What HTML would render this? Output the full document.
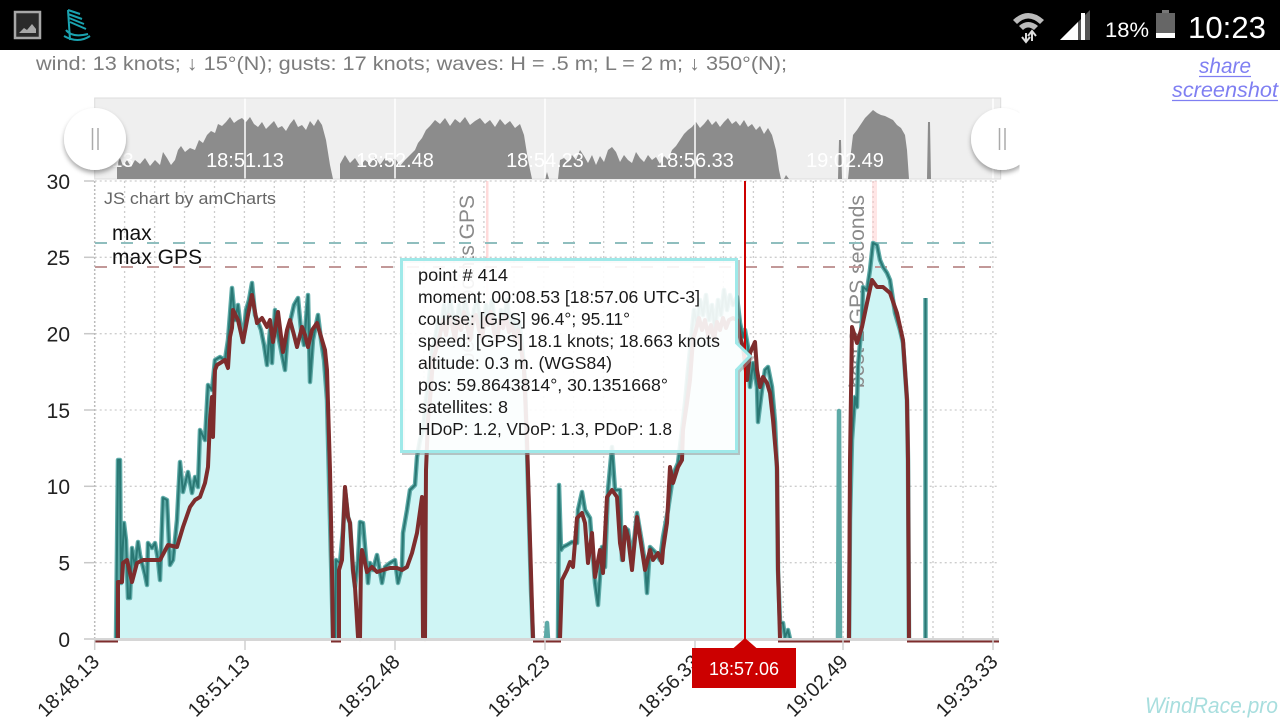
<!DOCTYPE html>
<html><head><meta charset="utf-8"><style>
html,body{margin:0;padding:0;background:#fff;width:1280px;height:720px;overflow:hidden}
svg{display:block}
text{font-family:"Liberation Sans",sans-serif}
</style></head><body>
<svg width="1280" height="720" viewBox="0 0 1280 720" xmlns="http://www.w3.org/2000/svg">
<defs>
<clipPath id="cr"><rect x="0" y="90" width="1019.5" height="100"/></clipPath>
<filter id="sh" x="-30%" y="-30%" width="160%" height="170%"><feDropShadow dx="0" dy="3" stdDeviation="2.5" flood-color="#000" flood-opacity="0.35"/></filter>
</defs>
<rect width="1280" height="720" fill="#fff"/>
<!-- status bar -->
<rect x="0" y="0" width="1280" height="50" fill="#000"/>
<rect x="15" y="12" width="25" height="26" fill="#2a2a2a" stroke="#a8a8a8" stroke-width="2.5"/>
<path d="M19,33 L24,28 L27,30 L32,24 L36,29 L36,33 Z" fill="#a8a8a8"/>
<g stroke="#1aa3b0" stroke-width="2" fill="none">
<path d="M68,10 L80,14 M68,14 L82,19 M69,18 L84,24 M70,22 L86,29 M68,10 L70,40"/>
<path d="M64,36 Q78,44 90,36 M66,30 Q72,38 88,34"/>
</g>
<path d="M1013,20 Q1028,6 1044,20 L1040,24 Q1028,13 1017,24 Z M1019,26 Q1028,18 1038,26 L1034,30 Q1028,25 1023,30 Z" fill="#bbb"/>
<path d="M1026,33 L1026,41 M1022,37 L1026,42 L1030,37 M1032,41 L1032,32 M1028,36 L1032,31 L1036,36" stroke="#ddd" stroke-width="2" fill="none"/>
<path d="M1060,40 L1090,40 L1090,10 Z" fill="#555"/>
<path d="M1060,40 L1078,40 L1078,22 Z" fill="#fff"/>
<rect x="1081" y="13" width="4" height="27" fill="#fff"/>
<text x="1105" y="37" font-size="21" fill="#fff" textLength="44" lengthAdjust="spacingAndGlyphs">18%</text>
<rect x="1162" y="10" width="7" height="4" fill="#777"/>
<rect x="1156" y="13" width="19" height="25" fill="#666"/>
<rect x="1156" y="33" width="19" height="5" fill="#fff"/>
<text x="1188" y="38" font-size="31" fill="#fff" textLength="78" lengthAdjust="spacingAndGlyphs">10:23</text>
<!-- header -->
<text x="36" y="70" font-size="19.5" fill="#7c7c7c" textLength="751" lengthAdjust="spacingAndGlyphs">wind: 13 knots; ↓ 15°(N); gusts: 17 knots; waves: H = .5 m; L = 2 m;  ↓ 350°(N);</text>
<text x="1199" y="73" font-size="21" font-style="italic" fill="#7f7ff2" textLength="52" lengthAdjust="spacingAndGlyphs">share</text>
<line x1="1199" y1="76.5" x2="1251" y2="76.5" stroke="#7f7ff2" stroke-width="1.3"/>
<text x="1172" y="97" font-size="21" font-style="italic" fill="#7f7ff2" textLength="106" lengthAdjust="spacingAndGlyphs">screenshot</text>
<line x1="1172" y1="100.5" x2="1278" y2="100.5" stroke="#7f7ff2" stroke-width="1.3"/>

<!-- scrollbar -->
<rect x="94.7" y="98" width="906" height="81" fill="#efefef" stroke="#dcdcdc" stroke-width="1"/>
<path fill="#8c8c8c" d="M94.7,179 L117,179 L117,165 L120,158 L123,166 L127,160 L131,167 L135,160 L140,164 L145,158 L150,166 L155,160 L160,165 L163,152 L167,158 L171,165 L175,160 L178,150 L181,146 L185,152 L190,148 L195,150 L199,140 L203,143 L207,135 L211,131 L215,133 L218,124 L222,126 L226,122 L230,117 L234,123 L238,120 L242,118 L246,122 L250,117 L254,124 L258,127 L262,122 L266,129 L270,125 L274,121 L278,128 L282,126 L286,131 L290,124 L294,119 L298,127 L302,125 L306,130 L310,121 L314,126 L318,119 L322,125 L326,140 L330,165 L333,179 L340,179 L340,164 L345,155 L350,163 L355,158 L360,166 L365,160 L370,164 L375,157 L380,165 L385,158 L390,163 L395,158 L400,166 L405,160 L410,155 L415,150 L418,143 L422,138 L426,130 L430,126 L435,120 L440,124 L445,118 L450,126 L455,119 L460,123 L465,117 L470,125 L475,121 L480,118 L485,124 L490,120 L495,127 L500,119 L505,125 L510,121 L515,128 L520,124 L524,135 L528,160 L532,179 L545,179 L547,172 L549,179 L558,179 L560,160 L564,158 L568,162 L572,155 L576,160 L580,150 L584,156 L588,163 L592,155 L596,165 L600,156 L604,162 L608,150 L612,147 L616,152 L620,162 L624,155 L628,160 L632,163 L636,152 L640,158 L644,162 L648,155 L652,160 L656,157 L660,164 L664,156 L668,160 L672,150 L676,146 L680,140 L684,134 L688,130 L692,127 L696,122 L700,128 L704,124 L708,119 L712,125 L716,121 L720,127 L724,122 L728,118 L732,124 L736,121 L740,126 L744,120 L748,127 L752,124 L756,130 L760,126 L764,134 L768,128 L772,135 L776,150 L779,170 L781,179 L784,179 L786,175 L789,179 L838,179 L839,140 L841,140 L842,179 L848,179 L850,160 L853,135 L857,130 L861,124 L865,118 L869,114 L873,110 L877,113 L881,115 L885,116 L889,118 L893,120 L897,125 L901,128 L905,135 L907,150 L909,179 L927,179 L928,122 L930,122 L931,179 L1000,179 Z"/>
<g stroke="#fff" stroke-width="1.5">
<line x1="245" y1="98.5" x2="245" y2="178.5"/><line x1="395" y1="98.5" x2="395" y2="178.5"/><line x1="545" y1="98.5" x2="545" y2="178.5"/><line x1="695" y1="98.5" x2="695" y2="178.5"/><line x1="845" y1="98.5" x2="845" y2="178.5"/><line x1="993" y1="98.5" x2="993" y2="178.5"/>
</g>
<g font-size="20" fill="#fff" text-anchor="middle">
<text x="94.7" y="167">18:48.13</text>
<text x="245" y="167">18:51.13</text>
<text x="395" y="167">18:52.48</text>
<text x="545" y="167">18:54.23</text>
<text x="695" y="167">18:56.33</text>
<text x="845" y="167">19:02.49</text>
</g>
<circle cx="95" cy="139" r="31" fill="#fff" filter="url(#sh)"/>
<line x1="92.5" y1="128" x2="92.5" y2="150" stroke="#aaa" stroke-width="1.5"/>
<line x1="98" y1="128" x2="98" y2="150" stroke="#aaa" stroke-width="1.5"/>
<g clip-path="url(#cr)">
<circle cx="1002" cy="139" r="31" fill="#fff" filter="url(#sh)"/>
<line x1="999.5" y1="128" x2="999.5" y2="150" stroke="#aaa" stroke-width="1.5"/>
<line x1="1005" y1="128" x2="1005" y2="150" stroke="#aaa" stroke-width="1.5"/>
</g>

<!-- grid -->
<g stroke="#cdcdcd" stroke-width="1.3" stroke-dasharray="2,3">
<line x1="94.7" y1="181" x2="999" y2="181"/>
<line x1="94.7" y1="257.3" x2="999" y2="257.3"/>
<line x1="94.7" y1="333.7" x2="999" y2="333.7"/>
<line x1="94.7" y1="410" x2="999" y2="410"/>
<line x1="94.7" y1="486.3" x2="999" y2="486.3"/>
<line x1="94.7" y1="562.7" x2="999" y2="562.7"/>
<line x1="124.6" y1="181" x2="124.6" y2="639"/><line x1="154.6" y1="181" x2="154.6" y2="639"/><line x1="184.5" y1="181" x2="184.5" y2="639"/><line x1="214.5" y1="181" x2="214.5" y2="639"/><line x1="244.4" y1="181" x2="244.4" y2="639"/><line x1="274.3" y1="181" x2="274.3" y2="639"/><line x1="304.3" y1="181" x2="304.3" y2="639"/><line x1="334.2" y1="181" x2="334.2" y2="639"/><line x1="364.2" y1="181" x2="364.2" y2="639"/><line x1="394.1" y1="181" x2="394.1" y2="639"/><line x1="424" y1="181" x2="424" y2="639"/><line x1="454" y1="181" x2="454" y2="639"/><line x1="483.9" y1="181" x2="483.9" y2="639"/><line x1="513.9" y1="181" x2="513.9" y2="639"/><line x1="543.8" y1="181" x2="543.8" y2="639"/><line x1="573.7" y1="181" x2="573.7" y2="639"/><line x1="603.7" y1="181" x2="603.7" y2="639"/><line x1="633.6" y1="181" x2="633.6" y2="639"/><line x1="663.6" y1="181" x2="663.6" y2="639"/><line x1="693.5" y1="181" x2="693.5" y2="639"/><line x1="723.4" y1="181" x2="723.4" y2="639"/><line x1="753.4" y1="181" x2="753.4" y2="639"/><line x1="783.3" y1="181" x2="783.3" y2="639"/><line x1="813.3" y1="181" x2="813.3" y2="639"/><line x1="843.2" y1="181" x2="843.2" y2="639"/><line x1="873.1" y1="181" x2="873.1" y2="639"/><line x1="903.1" y1="181" x2="903.1" y2="639"/><line x1="933" y1="181" x2="933" y2="639"/><line x1="963" y1="181" x2="963" y2="639"/><line x1="992.9" y1="181" x2="992.9" y2="639"/>
</g>
<line x1="94.7" y1="181" x2="94.7" y2="639" stroke="#bbb" stroke-width="1.5" stroke-dasharray="2,2"/>
<g stroke="#c8c8c8" stroke-width="1.5">
<line x1="84" y1="181" x2="94" y2="181"/><line x1="84" y1="257.3" x2="94" y2="257.3"/><line x1="84" y1="333.7" x2="94" y2="333.7"/><line x1="84" y1="410" x2="94" y2="410"/><line x1="84" y1="486.3" x2="94" y2="486.3"/><line x1="84" y1="562.7" x2="94" y2="562.7"/><line x1="84" y1="639" x2="94" y2="639"/>
</g>

<!-- guides -->
<rect x="486" y="181" width="2.5" height="458" fill="#ffb0b0" opacity="0.45"/>
<rect x="872" y="181" width="5" height="458" fill="#ffc8c8" opacity="0.45"/>

<!-- area fills -->
<g fill="#cff5f5">
<path d="M116,639 L118,460 L120,460 L121,583 L124,523 L126,540 L128,598 L130,598 L132,548 L135,567 L138,542 L140,555 L142,563 L145,575 L147,585 L148,543 L152,548 L155,543 L158,560 L160,580 L163,498 L167,500 L170,565 L173,560 L177,520 L180,462 L183,492 L188,472 L192,493 L195,477 L198,487 L200,430 L205,440 L208,385 L212,390 L215,360 L220,357 L225,360 L228,340 L232,288 L235,320 L238,305 L241,330 L243,342 L246,310 L249,300 L252,283 L255,315 L258,322 L261,330 L264,345 L267,365 L270,330 L272,363 L275,310 L278,335 L281,350 L285,370 L288,330 L291,318 L294,305 L298,298 L301,330 L304,345 L306,320 L308,295 L310,382 L313,340 L316,325 L318,315 L321,340 L324,360 L327,400 L329,480 L331,560 L333,639 Z"/>
<path d="M335,639 L336,560 L340,563 L343,530 L345,490 L348,517 L350,523 L353,570 L355,587 L358,560 L360,522 L363,523 L367,570 L368,583 L370,563 L373,570 L377,555 L382,583 L385,567 L390,563 L395,560 L398,583 L402,567 L403,533 L407,510 L410,490 L415,485 L417,457 L420,440 L423,430 L426,400 L429,380 L432,350 L435,340 L438,320 L441,330 L444,305 L447,320 L450,300 L453,315 L456,330 L459,305 L462,320 L465,300 L468,315 L471,335 L474,310 L477,300 L480,320 L483,330 L486,305 L489,315 L492,300 L495,325 L498,335 L501,310 L504,320 L507,300 L510,325 L513,315 L516,335 L519,320 L522,345 L525,380 L527,450 L529,520 L531,590 L533,639 Z"/>
<path d="M558,639 L559,485 L561,550 L563,547 L567,545 L572,542 L577,543 L578,510 L582,492 L585,510 L590,518 L593,557 L595,583 L598,605 L602,547 L605,567 L608,490 L612,447 L615,490 L620,490 L622,560 L625,528 L628,530 L632,560 L637,513 L642,543 L645,563 L647,593 L650,547 L655,552 L660,560 L663,537 L668,510 L672,483 L675,470 L678,463 L682,430 L685,403 L688,370 L691,340 L694,310 L697,325 L700,300 L703,315 L706,295 L709,320 L712,305 L715,330 L718,300 L721,315 L724,290 L727,310 L730,295 L733,305 L737,297 L740,323 L743,337 L745,330 L748,347 L750,387 L753,363 L757,387 L758,422 L762,390 L765,370 L768,367 L772,387 L775,422 L777,470 L778,570 L780,623 L783,623 L785,637 L788,630 L790,639 Z"/>
<path d="M849,639 L850,520 L852,440 L855,397 L857,407 L858,367 L862,320 L863,287 L867,290 L870,270 L873,243 L877,245 L880,260 L883,267 L887,273 L890,280 L895,313 L900,330 L903,343 L907,400 L908,460 L909,639 Z"/>
</g>
<text transform="translate(474,195) rotate(-90)" text-anchor="end" font-size="21" fill="#8a8a8a">best 2 points GPS</text>
<text transform="translate(864,195) rotate(-90)" text-anchor="end" font-size="21" fill="#8a8a8a" textLength="193" lengthAdjust="spacingAndGlyphs">best 2 GPS seconds</text>

<!-- max lines -->
<line x1="95" y1="243" x2="999" y2="243" stroke="#8fbebe" stroke-width="2" stroke-dasharray="12,14"/>
<line x1="95" y1="267" x2="999" y2="267" stroke="#c29898" stroke-width="2" stroke-dasharray="12,14"/>
<text x="112" y="240" font-size="21" fill="#111">max</text>
<text x="112" y="264" font-size="21" fill="#111" textLength="90" lengthAdjust="spacingAndGlyphs">max GPS</text>
<text x="104" y="204" font-size="16.5" fill="#666" textLength="172" lengthAdjust="spacingAndGlyphs">JS chart by amCharts</text>

<!-- teal series -->
<g fill="none" stroke-linejoin="round">
<g stroke="#5eaaa7" stroke-width="4.5">
<polyline points="116,639 118,460 120,460 121,583 124,523 126,540 128,598 130,598 132,548 135,567 138,542 140,555 142,563 145,575 147,585 148,543 152,548 155,543 158,560 160,580 163,498 167,500 170,565 173,560 177,520 180,462 183,492 188,472 192,493 195,477 198,487 200,430 205,440 208,385 212,390 215,360 220,357 225,360 228,340 232,288 235,320 238,305 241,330 243,342 246,310 249,300 252,283 255,315 258,322 261,330 264,345 267,365 270,330 272,363 275,310 278,335 281,350 285,370 288,330 291,318 294,305 298,298 301,330 304,345 306,320 308,295 310,382 313,340 316,325 318,315 321,340 324,360 327,400 329,480 331,560 333,639"/>
<polyline points="335,639 336,560 340,563 343,530 345,490 348,517 350,523 353,570 355,587 358,560 360,522 363,523 367,570 368,583 370,563 373,570 377,555 382,583 385,567 390,563 395,560 398,583 402,567 403,533 407,510 410,490 415,485 417,457 420,440 423,430 426,400 429,380 432,350 435,340 438,320 441,330 444,305 447,320 450,300 453,315 456,330 459,305 462,320 465,300 468,315 471,335 474,310 477,300 480,320 483,330 486,305 489,315 492,300 495,325 498,335 501,310 504,320 507,300 510,325 513,315 516,335 519,320 522,345 525,380 527,450 529,520 531,590 533,639"/>
<polyline points="546,639 547,623 548,639"/>
<polyline points="558,639 559,485 561,550 563,547 567,545 572,542 577,543 578,510 582,492 585,510 590,518 593,557 595,583 598,605 602,547 605,567 608,490 612,447 615,490 620,490 622,560 625,528 628,530 632,560 637,513 642,543 645,563 647,593 650,547 655,552 660,560 663,537 668,510 672,483 675,470 678,463 682,430 685,403 688,370 691,340 694,310 697,325 700,300 703,315 706,295 709,320 712,305 715,330 718,300 721,315 724,290 727,310 730,295 733,305 737,297 740,323 743,337 745,330 748,347 750,387 753,363 757,387 758,422 762,390 765,370 768,367 772,387 775,422 777,470 778,570 780,623 783,623 785,637 788,630 790,639"/>
<polyline points="838,639 839,411 840,639"/>
<polyline points="849,639 850,520 852,440 855,397 857,407 858,367 862,320 863,287 867,290 870,270 873,243 877,245 880,260 883,267 887,273 890,280 895,313 900,330 903,343 907,400 908,460 909,639"/>
<polyline points="925.5,639 925.5,298"/>
</g>
<g stroke="#2a7874" stroke-width="2">
<polyline points="116,639 118,460 120,460 121,583 124,523 126,540 128,598 130,598 132,548 135,567 138,542 140,555 142,563 145,575 147,585 148,543 152,548 155,543 158,560 160,580 163,498 167,500 170,565 173,560 177,520 180,462 183,492 188,472 192,493 195,477 198,487 200,430 205,440 208,385 212,390 215,360 220,357 225,360 228,340 232,288 235,320 238,305 241,330 243,342 246,310 249,300 252,283 255,315 258,322 261,330 264,345 267,365 270,330 272,363 275,310 278,335 281,350 285,370 288,330 291,318 294,305 298,298 301,330 304,345 306,320 308,295 310,382 313,340 316,325 318,315 321,340 324,360 327,400 329,480 331,560 333,639"/>
<polyline points="335,639 336,560 340,563 343,530 345,490 348,517 350,523 353,570 355,587 358,560 360,522 363,523 367,570 368,583 370,563 373,570 377,555 382,583 385,567 390,563 395,560 398,583 402,567 403,533 407,510 410,490 415,485 417,457 420,440 423,430 426,400 429,380 432,350 435,340 438,320 441,330 444,305 447,320 450,300 453,315 456,330 459,305 462,320 465,300 468,315 471,335 474,310 477,300 480,320 483,330 486,305 489,315 492,300 495,325 498,335 501,310 504,320 507,300 510,325 513,315 516,335 519,320 522,345 525,380 527,450 529,520 531,590 533,639"/>
<polyline points="558,639 559,485 561,550 563,547 567,545 572,542 577,543 578,510 582,492 585,510 590,518 593,557 595,583 598,605 602,547 605,567 608,490 612,447 615,490 620,490 622,560 625,528 628,530 632,560 637,513 642,543 645,563 647,593 650,547 655,552 660,560 663,537 668,510 672,483 675,470 678,463 682,430 685,403 688,370 691,340 694,310 697,325 700,300 703,315 706,295 709,320 712,305 715,330 718,300 721,315 724,290 727,310 730,295 733,305 737,297 740,323 743,337 745,330 748,347 750,387 753,363 757,387 758,422 762,390 765,370 768,367 772,387 775,422 777,470 778,570 780,623 783,623 785,637 788,630 790,639"/>
<polyline points="849,639 850,520 852,440 855,397 857,407 858,367 862,320 863,287 867,290 870,270 873,243 877,245 880,260 883,267 887,273 890,280 895,313 900,330 903,343 907,400 908,460 909,639"/>
<polyline points="925.5,639 925.5,298"/>
</g>
</g>

<!-- brown series -->
<g fill="none" stroke="#7e2d2d" stroke-width="4" stroke-linejoin="round">
<polyline points="118,639 118,582 122,582 123,563 127,560 132,582 137,563 143,560 160,560 168,545 177,547 183,527 190,507 195,500 200,497 205,483 208,467 210,420 212,397 213,437 215,370 217,365 225,360 228,368 230,337 232,328 233,310 238,320 243,342 248,315 252,295 257,323 262,318 267,327 270,320 273,342 278,312 283,352 287,330 290,320 294,335 297,347 302,327 305,335 308,347 312,330 317,323 322,340 325,350 327,370 330,470 332,570 333,639"/>
<polyline points="339,639 339,570 342,560 345,487 348,517 350,523 353,570 355,587 358,637 360,639 361,560 362,550 367,572 372,567 377,572 383,570 390,568 397,568 402,570 407,567 412,553 417,533 422,497 423,637 425,639 426,470 428,420 430,400 433,360 436,350 440,335 443,320 446,335 449,315 452,325 455,340 458,318 461,330 464,312 467,325 470,340 473,320 476,315 479,330 482,338 485,318 488,325 491,312 494,332 497,340 500,320 503,328 506,315 509,332 512,325 515,340 518,330 521,348 524,370 527,440 530,540 533,639"/>
<polyline points="560,639 562,580 567,570 570,562 573,567 577,518 582,513 585,523 588,563 592,533 595,577 600,550 603,573 607,497 612,490 617,497 620,543 623,560 625,527 628,537 632,570 637,517 640,537 645,570 650,550 653,560 658,553 662,563 663,550 667,523 670,467 673,483 678,467 682,460 683,430 687,403 690,380 693,340 696,330 699,318 702,330 705,320 708,335 711,325 714,340 717,322 720,330 723,318 726,328 729,320 733,318 737,320 740,337 743,347 747,380 750,353 755,342 757,370 760,387 763,377 767,383 770,393 773,420 777,467 778,570 780,639"/>
<polyline points="849,639 850,460 852,327 857,343 862,327 867,303 872,280 877,287 883,287 890,293 897,313 903,340 907,400 908,460 909,639"/>
</g>

<!-- x axis -->
<line x1="94" y1="639.5" x2="999" y2="639.5" stroke="#d6d6d6" stroke-width="3"/>
<g stroke="#7e2d2d" stroke-width="2">
<line x1="94" y1="641.5" x2="118" y2="641.5"/><line x1="331" y1="641.5" x2="341" y2="641.5"/><line x1="533" y1="641.5" x2="561" y2="641.5"/><line x1="778" y1="641.5" x2="850" y2="641.5"/><line x1="907" y1="641.5" x2="999" y2="641.5"/>
</g>
<g stroke="#d0d0d0" stroke-width="1.5">
<line x1="94.7" y1="640" x2="94.7" y2="650"/><line x1="245" y1="640" x2="245" y2="650"/><line x1="395" y1="640" x2="395" y2="650"/><line x1="545" y1="640" x2="545" y2="650"/><line x1="695" y1="640" x2="695" y2="650"/><line x1="843" y1="640" x2="843" y2="650"/><line x1="993" y1="640" x2="993" y2="650"/>
</g>
<g font-size="20" fill="#222" text-anchor="end">
<text transform="translate(100.5,663) rotate(-45)">18:48.13</text>
<text transform="translate(251,663) rotate(-45)">18:51.13</text>
<text transform="translate(401,663) rotate(-45)">18:52.48</text>
<text transform="translate(551,663) rotate(-45)">18:54.23</text>
<text transform="translate(701,663) rotate(-45)">18:56.33</text>
<text transform="translate(849,663) rotate(-45)">19:02.49</text>
<text transform="translate(999,663) rotate(-45)">19:33.33</text>
</g>
<!-- y labels -->
<g font-size="21" fill="#222" text-anchor="end">
<text x="70" y="189">30</text>
<text x="70" y="265">25</text>
<text x="70" y="341.5">20</text>
<text x="70" y="418">15</text>
<text x="70" y="494">10</text>
<text x="70" y="570.5">5</text>
<text x="70" y="647">0</text>
</g>

<!-- cursor -->
<line x1="745" y1="181" x2="745" y2="645" stroke="#cc0000" stroke-width="2"/>
<path d="M733,648.5 L745,638 L757,648.5 Z" fill="#cc0000"/>
<rect x="692" y="648" width="104" height="40" fill="#cc0000"/>
<text x="744" y="675" font-size="18" fill="#fff" text-anchor="middle" textLength="70" lengthAdjust="spacingAndGlyphs">18:57.06</text>

<!-- tooltip -->
<path d="M403.5,261.5 H738.5 V345 L752,358 L738.5,372 V453.5 H403.5 Z" fill="none" stroke="#999" stroke-opacity="0.55" stroke-width="3"/>
<path d="M401.5,259.5 H736.5 V343 L750,356 L736.5,370 V451.5 H401.5 Z" fill="#fff" fill-opacity="0.9" stroke="#9fe9e9" stroke-width="3"/>
<g font-size="17.6" fill="#1a1a1a">
<text x="418" y="281" textLength="90" lengthAdjust="spacingAndGlyphs">point # 414</text>
<text x="418" y="303" textLength="282" lengthAdjust="spacingAndGlyphs">moment: 00:08.53 [18:57.06 UTC-3]</text>
<text x="418" y="325" textLength="212" lengthAdjust="spacingAndGlyphs">course: [GPS] 96.4°; 95.11°</text>
<text x="418" y="347" textLength="302" lengthAdjust="spacingAndGlyphs">speed: [GPS] 18.1 knots; 18.663 knots</text>
<text x="418" y="369" textLength="194" lengthAdjust="spacingAndGlyphs">altitude: 0.3 m. (WGS84)</text>
<text x="418" y="391" textLength="250" lengthAdjust="spacingAndGlyphs">pos: 59.8643814°, 30.1351668°</text>
<text x="418" y="413" textLength="90" lengthAdjust="spacingAndGlyphs">satellites: 8</text>
<text x="418" y="435" textLength="254" lengthAdjust="spacingAndGlyphs">HDoP: 1.2, VDoP: 1.3, PDoP: 1.8</text>
</g>

<!-- watermark -->
<text x="1145" y="713" font-size="22" font-style="italic" fill="#a8dede" textLength="133" lengthAdjust="spacingAndGlyphs">WindRace.pro</text>
</svg>
</body></html>
